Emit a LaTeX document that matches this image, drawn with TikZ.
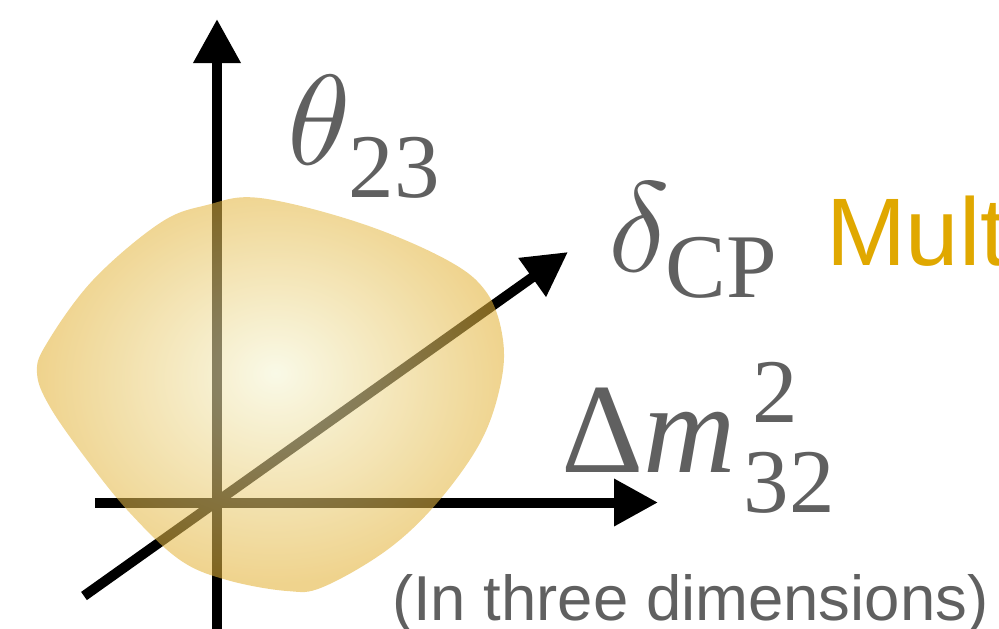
\documentclass[tikz,border=0pt]{standalone}
\usepackage{fontspec}
\usepackage{graphicx}
\setmainfont{Liberation Serif}
\newfontfamily\labsans{Liberation Sans}
\usetikzlibrary{arrows.meta}
\definecolor{labgray}{RGB}{96,96,96}
\definecolor{multgold}{RGB}{224,168,0}
\definecolor{blobin}{RGB}{245,245,212}
\definecolor{blobout}{RGB}{227,178,55}
\pgfdeclareradialshading{blobshade}{\pgfpoint{0.5bp}{2.7bp}}{color(0bp)=(blobin); color(25bp)=(blobout); color(50bp)=(blobout)}
\newcommand{\scriptsz}{\fontsize{91}{91}\selectfont}
\newcommand{\bigmath}[1]{\scalebox{12.8}{\fontsize{10}{12}\selectfont$#1$}}
\begin{document}
\begin{tikzpicture}[x=1pt,y=-1pt,
  axis/.style={line width=10pt,-{Triangle[length=44pt,width=45pt]}},
  lab/.style={inner sep=0pt,outer sep=0pt,text=labgray,anchor=base west,font=\fontsize{128}{128}\selectfont},
  sanslab/.style={inner sep=0pt,outer sep=0pt,anchor=base west}]
\useasboundingbox (0,0) rectangle (999,629);
\clip (0,0) rectangle (999,629);
% axes
\coordinate (vbot) at (217,640);
\coordinate (vtop) at (217,19);
\coordinate (hl) at (95,502.5);
\coordinate (hr) at (658,502.5);
\coordinate (dl) at (84,596);
\coordinate (dr) at (568,252);
\draw[axis] (vbot) -- (vtop);
\draw[axis] (hl) -- (hr);
\draw[axis] (dl) -- (dr);
% blob
\shade[shading=blobshade,opacity=0.57] plot[smooth cycle,tension=0.6] coordinates {
 (260,198) (360,223) (447,260) (487,293) (503,340) (500,387) (480,443)
 (437,503) (387,550) (323,587) (287,591) (227,580) (180,560) (130,513)
 (87,460) (50,407) (37,373) (47,343) (93,280) (160,223) (207,205)};
% labels
\node[lab] (theta) at (287,164) {\bigmath{\theta}\kern-2pt\raisebox{-33pt}{\scriptsz 23}};
\node[lab] (delta) at (608,271) {\bigmath{\delta}\kern-4pt\raisebox{-26pt}{\scriptsz CP}};
\node[lab] (dm) at (561,472) {Δ\textit{m}\kern8pt\rlap{\kern9pt\raisebox{50pt}{\scriptsz 2}}\raisebox{-40pt}{\scriptsz 32}};
\node[sanslab,text=multgold,font=\labsans\fontsize{96}{96}\selectfont] (mult) at (826,265) {Mult};
\node[sanslab,text=labgray,font=\labsans\fontsize{63.5}{63.5}\selectfont] (dims) at (392,620) {(In three dimensions)};
\end{tikzpicture}
\end{document}
